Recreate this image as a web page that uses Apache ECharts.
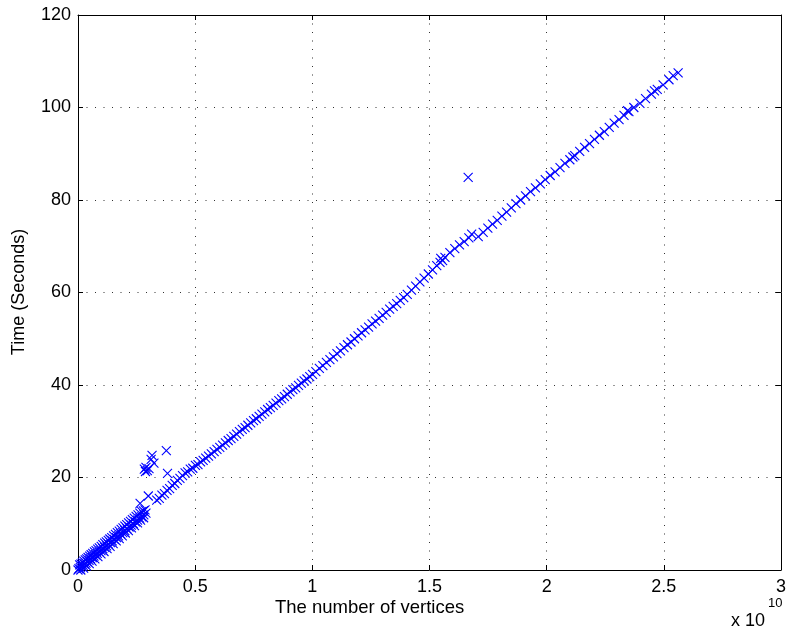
<!DOCTYPE html>
<html>
<head>
<meta charset="utf-8">
<script src="https://cdn.jsdelivr.net/npm/echarts@6/dist/echarts.min.js"></script>
<style>
  html, body { margin: 0; padding: 0; background: #fff; }
  #chart { width: 789px; height: 631px; }
</style>
</head>
<body>
<div id="chart"></div>
<script>
// x values are in units of 1e10 vertices (axis shows "x 10^10")
// dense band near the origin (three slightly offset rows)
const denseVerticesA = [0.000, 0.004, 0.010, 0.016, 0.022, 0.028, 0.034, 0.040, 0.047, 0.054, 0.061, 0.068, 0.075, 0.082, 0.090, 0.098, 0.106, 0.114, 0.122, 0.130, 0.138, 0.146, 0.155, 0.164, 0.173, 0.182, 0.191, 0.200, 0.209, 0.218, 0.227, 0.236, 0.245, 0.254, 0.263, 0.272, 0.281, 0.290]
const denseSecondsA  = [0.0, 0.3, 0.5, 0.8, 1.0, 1.3, 1.5, 1.8, 2.1, 2.4, 2.7, 3.0, 3.3, 3.6, 3.9, 4.2, 4.6, 4.9, 5.2, 5.6, 5.9, 6.3, 6.6, 7.0, 7.4, 7.8, 8.1, 8.5, 8.9, 9.3, 9.7, 10.0, 10.4, 10.8, 11.2, 11.5, 11.9, 12.3]
const denseVerticesB = [0.007, 0.013, 0.019, 0.025, 0.031, 0.037, 0.043, 0.050, 0.056, 0.063, 0.070, 0.077, 0.084, 0.091, 0.099, 0.106, 0.114, 0.121, 0.129, 0.136, 0.144, 0.152, 0.160, 0.168, 0.176, 0.184, 0.192, 0.200, 0.208, 0.216, 0.224, 0.232, 0.240, 0.248, 0.256, 0.264, 0.272, 0.279, 0.286]
const denseSecondsB  = [1.1, 1.3, 1.6, 1.9, 2.2, 2.4, 2.7, 3.0, 3.3, 3.6, 3.9, 4.2, 4.5, 4.8, 5.1, 5.5, 5.8, 6.1, 6.4, 6.7, 7.0, 7.4, 7.7, 8.1, 8.4, 8.8, 9.1, 9.5, 9.8, 10.2, 10.5, 10.9, 11.2, 11.6, 11.9, 12.3, 12.6, 12.8, 13.0]
const denseVerticesC = [0.012, 0.024, 0.036, 0.048, 0.060, 0.072, 0.085, 0.098, 0.111, 0.124, 0.137, 0.150, 0.163, 0.176, 0.189, 0.202, 0.215, 0.228, 0.241, 0.254, 0.267, 0.280]
const denseSecondsC  = [0.0, 0.4, 0.9, 1.4, 1.9, 2.4, 2.9, 3.5, 4.0, 4.6, 5.1, 5.7, 6.3, 6.8, 7.4, 8.0, 8.5, 9.1, 9.6, 10.2, 10.8, 11.3]

// main line
const mainVertices = [
  0.336, 0.347, 0.358, 0.369, 0.380, 0.391, 0.402, 0.413, 0.424, 0.435,
  0.446, 0.457, 0.468, 0.479, 0.490, 0.501, 0.512, 0.523, 0.534, 0.545,
  0.557, 0.569, 0.581, 0.593, 0.605, 0.617, 0.629, 0.641, 0.653, 0.665,
  0.677, 0.689, 0.701, 0.713, 0.725, 0.737, 0.749, 0.761, 0.773, 0.785,
  0.797, 0.809, 0.821, 0.833, 0.845, 0.857, 0.869, 0.881, 0.893, 0.905,
  0.917, 0.929, 0.941, 0.953, 0.965, 0.977, 0.989, 1.001,
  1.015, 1.030, 1.045, 1.060, 1.075, 1.090, 1.105, 1.120, 1.135, 1.150,
  1.165, 1.180, 1.195, 1.210, 1.225, 1.240, 1.255, 1.270, 1.285, 1.300,
  1.315, 1.330, 1.345, 1.360, 1.375, 1.390, 1.405,
  1.423, 1.441, 1.459, 1.477, 1.495, 1.513, 1.531, 1.545, 1.548, 1.556,
  1.566, 1.587, 1.608, 1.628, 1.648, 1.668, 1.680, 1.708, 1.729,
  1.749, 1.769, 1.789, 1.809, 1.829, 1.849, 1.869, 1.889,
  1.910, 1.931, 1.952, 1.973, 1.994, 2.015, 2.036, 2.057, 2.078, 2.099,
  2.112, 2.120, 2.141, 2.162, 2.183, 2.204, 2.225, 2.246, 2.267, 2.288,
  2.309, 2.330, 2.345, 2.351, 2.372,
  2.398, 2.422, 2.447, 2.460, 2.472, 2.497, 2.522, 2.540, 2.561
]
const mainSeconds = [
  15.1, 15.5, 16.2, 16.5, 17.2, 17.6, 18.3, 18.7, 19.4, 19.8,
  20.4, 21.0, 21.2, 21.8, 22.0, 22.6, 22.8, 23.4, 23.7, 24.2,
  24.6, 25.1, 25.6, 26.1, 26.5, 27.0, 27.5, 28.0, 28.4, 28.9,
  29.4, 29.9, 30.4, 30.8, 31.3, 31.8, 32.3, 32.7, 33.2, 33.7,
  34.2, 34.7, 35.1, 35.6, 36.1, 36.6, 37.0, 37.5, 38.0, 38.5,
  39.0, 39.4, 39.9, 40.4, 40.9, 41.3, 41.8, 42.3,
  42.9, 43.6, 44.2, 44.9, 45.5, 46.1, 46.8, 47.4, 48.1, 48.7,
  49.3, 50.0, 50.6, 51.3, 51.9, 52.5, 53.2, 53.8, 54.4, 55.1,
  55.7, 56.4, 57.0, 57.6, 58.3, 58.9, 59.6,
  60.5, 61.4, 62.3, 63.1, 64.0, 64.9, 65.8, 66.5, 67.4, 66.9,
  67.6, 68.6, 69.5, 70.3, 71.0, 71.8, 72.6, 72.1, 73.0,
  73.9, 74.8, 75.6, 76.5, 77.4, 78.3, 79.2, 80.0,
  80.9, 81.8, 82.6, 83.5, 84.4, 85.3, 86.1, 87.0, 87.9, 88.7,
  89.3, 89.6, 90.5, 91.4, 92.2, 93.1, 94.0, 94.8, 95.7, 96.6,
  97.4, 98.3, 99.3, 99.1, 100.0,
  100.9, 101.9, 102.9, 103.6, 103.9, 104.9, 106.0, 106.9, 107.5
]

// scattered points off the line
const outlierVertices = [0.265, 0.300, 0.283, 0.290, 0.296, 0.303, 0.288, 0.316, 0.312, 0.324, 0.377, 0.382, 1.665]
const outlierSeconds  = [14.4, 16.0, 21.8, 22.2, 21.5, 21.9, 21.3, 24.8, 23.9, 23.1, 25.8, 20.9, 84.9]

const xTickLabels = ['0', '0.5', '1', '1.5', '2', '2.5', '3']
const yTickLabels = ['0', '20', '40', '60', '80', '100', '120']

function pairs(xs, ys) {
  return xs.map((x, i) => [x, ys[i]])
}

const allPoints = []
  .concat(pairs(denseVerticesA, denseSecondsA))
  .concat(pairs(denseVerticesB, denseSecondsB))
  .concat(pairs(denseVerticesC, denseSecondsC))
  .concat(pairs(mainVertices, mainSeconds))
  .concat(pairs(outlierVertices, outlierSeconds))

const font = 'Liberation Sans, Arial, Helvetica, sans-serif'

function boxAxis(extra) {
  return Object.assign({
    type: 'value',
    axisLine: { show: true, onZero: false, lineStyle: { color: '#000', width: 1 } },
    axisTick: { show: true, inside: true, length: 5, lineStyle: { color: '#000' } },
    axisLabel: { show: false },
    splitLine: { show: false }
  }, extra)
}

const chart = echarts.init(document.getElementById('chart'))
const option = {
  animation: false,
  backgroundColor: '#fff',
  grid: { left: 78, right: 7, top: 15, bottom: 61 },
  xAxis: [
    boxAxis({
      min: 0, max: 3, interval: 0.5, position: 'bottom',
      axisLabel: {
        show: true, color: '#000', fontSize: 18, fontFamily: font, margin: 8,
        formatter: (v) => xTickLabels[Math.round(v / 0.5)]
      },
      splitLine: { show: true, lineStyle: { color: '#333', width: 1, type: [1, 7.5] } }
    }),
    boxAxis({ min: 0, max: 3, interval: 0.5, position: 'top' })
  ],
  yAxis: [
    boxAxis({
      min: 0, max: 120, interval: 20, position: 'left',
      axisLabel: {
        show: true, color: '#000', fontSize: 18, fontFamily: font, margin: 7,
        formatter: (v) => yTickLabels[Math.round(v / 20)]
      },
      splitLine: { show: true, lineStyle: { color: '#333', width: 1, type: [1, 7.5] } }
    }),
    boxAxis({ min: 0, max: 120, interval: 20, position: 'right' })
  ],
  graphic: [
    {
      type: 'text', left: 275, top: 598,
      style: { text: 'The number of vertices', fill: '#000', font: '18.5px ' + font }
    },
    {
      type: 'text', x: 19, y: 292, rotation: Math.PI / 2,
      style: { text: 'Time (Seconds)', fill: '#000', font: '18px ' + font, align: 'center', verticalAlign: 'middle' }
    },
    {
      type: 'text', left: 731, top: 612,
      style: { text: 'x 10', fill: '#000', font: '18px ' + font }
    },
    {
      type: 'text', left: 768, top: 597,
      style: { text: '10', fill: '#000', font: '13px ' + font }
    }
  ],
  series: [
    {
      type: 'scatter',
      xAxisIndex: 0,
      yAxisIndex: 0,
      symbol: 'path://M0,0L10,10M10,0L0,10',
      symbolSize: 9,
      itemStyle: { color: 'rgba(0,0,0,0)', borderColor: '#0000ff', borderWidth: 1.1, opacity: 1 },
      emphasis: { disabled: true },
      data: allPoints
    }
  ]
}
chart.setOption(option)
</script>
</body>
</html>
